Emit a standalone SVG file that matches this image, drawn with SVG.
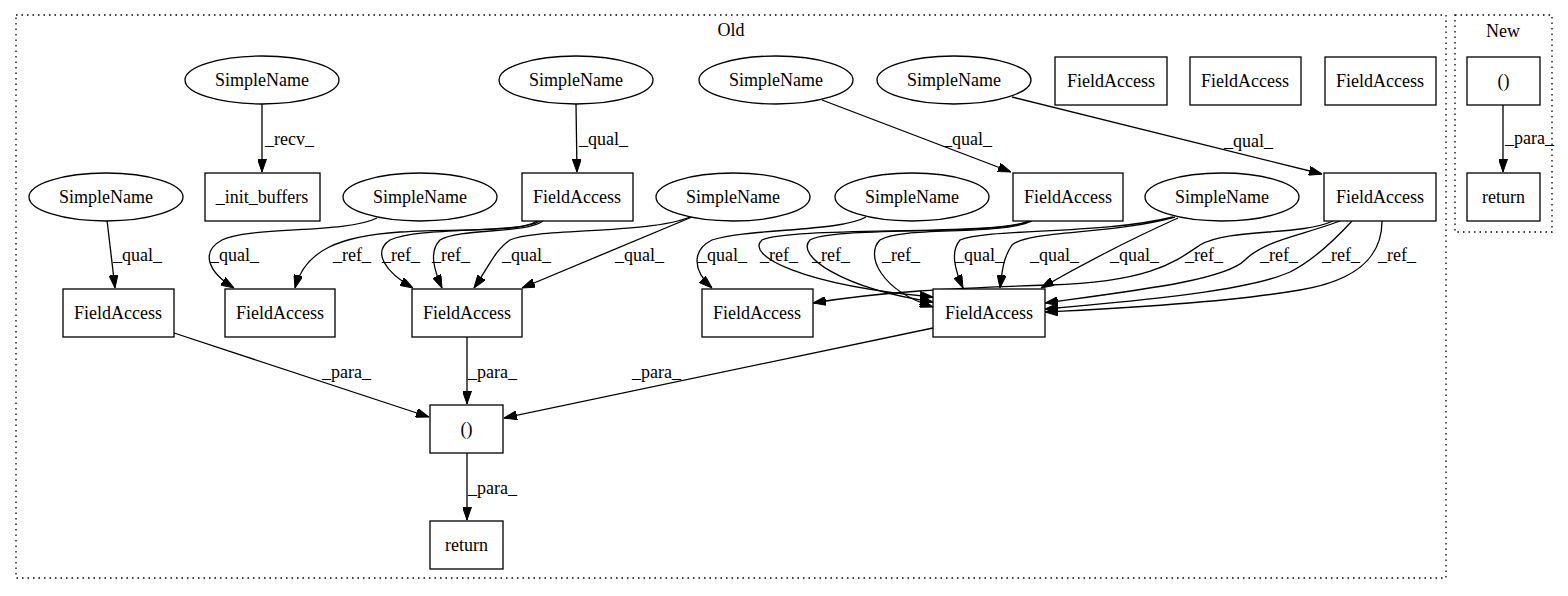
<svg xmlns="http://www.w3.org/2000/svg" width="1568" height="596" viewBox="0 0 1568 596">
<style>
text{font-family:"Liberation Serif","Times New Roman",serif;font-size:18px;fill:#000}
.n{text-anchor:middle}
.box{fill:#fff;stroke:#000;stroke-width:1.3}
.ell{fill:#fff;stroke:#000;stroke-width:1.3}
.cl{fill:none;stroke:#000;stroke-width:1.3;stroke-dasharray:1.5 4}
.e{fill:none;stroke:#000;stroke-width:1.3;marker-end:url(#ah)}
</style>
<defs>
<marker id="ah" viewBox="0 0 13 9" refX="13" refY="4.5" markerWidth="13" markerHeight="9" markerUnits="userSpaceOnUse" orient="auto">
<path d="M0,0 L13,4.5 L0,9 Z" fill="#000" stroke="#000" stroke-width="1"/>
</marker>
</defs>
<rect width="1568" height="596" fill="#fff"/>
<g id="cluster_old">
<rect class="cl" x="16" y="15" width="1430" height="563"/>
<text class="n" x="731" y="36">Old</text>
</g>
<g id="cluster_new">
<rect class="cl" x="1455" y="15" width="97" height="217"/>
<text class="n" x="1503" y="37">New</text>
</g>
<g id="connectors">
<path class="e" d="M262,104 L262,172"/>
<path class="e" d="M576,104 L577,172"/>
<path class="e" d="M822,100 L1011,172"/>
<path class="e" d="M1012,97 L1322,174"/>
<path class="e" d="M107,220 L115,288"/>
<path class="e" d="M377,218 C345,234 250,226 222,240 C200,252 208,272 234,288"/>
<path class="e" d="M537,221 C520,233 460,228 400,232 C340,236 305,250 295,288"/>
<path class="e" d="M540,221 C520,234 420,226 390,240 C372,252 385,272 413,288"/>
<path class="e" d="M543,221 C525,234 460,228 440,240 C428,252 435,272 442,288"/>
<path class="e" d="M690,217 C650,234 535,228 510,240 C495,250 488,268 474,288"/>
<path class="e" d="M692,217 L522,288"/>
<path class="e" d="M866,217 C840,232 750,228 712,240 C692,250 692,270 712,288"/>
<path class="e" d="M1028,221 C1000,236 790,226 762,240 C745,255 800,285 933,297"/>
<path class="e" d="M1030,221 C1000,236 830,226 810,240 C795,255 840,288 933,302"/>
<path class="e" d="M1032,221 C1000,236 900,226 880,240 C865,255 880,290 933,307"/>
<path class="e" d="M1173,217 C1100,235 990,228 960,240 C950,252 955,270 963,288"/>
<path class="e" d="M1175,217 C1110,235 1030,230 1012,245 C1003,258 1002,272 1000,288"/>
<path class="e" d="M1178,218 C1140,235 1090,260 1041,288"/>
<path class="e" d="M1333,221 C1300,236 1230,228 1200,245 C1175,262 1150,282 1050,285 C950,288 880,292 813,303"/>
<path class="e" d="M1340,221 C1300,236 1265,240 1245,260 C1225,280 1140,290 1045,303"/>
<path class="e" d="M1352,221 C1330,245 1310,262 1290,272 C1250,290 1150,300 1045,309"/>
<path class="e" d="M1382,221 C1382,255 1360,280 1300,290 C1230,302 1130,308 1045,312"/>
<path class="e" d="M174,333 L429,417"/>
<path class="e" d="M467,337 L467,404"/>
<path class="e" d="M933,328 L504,418"/>
<path class="e" d="M467,453 L467,520"/>
<path class="e" d="M1503,105 L1503,172"/>
<text x="265" y="145">_recv_</text>
<text x="579" y="145">_qual_</text>
<text x="943" y="145">_qual_</text>
<text x="1224" y="147">_qual_</text>
<text x="113" y="261">_qual_</text>
<text x="210" y="261">_qual_</text>
<text x="333" y="261">_ref_</text>
<text x="382" y="261">_ref_</text>
<text x="432" y="261">_ref_</text>
<text x="502" y="261">_qual_</text>
<text x="615" y="261">_qual_</text>
<text x="698" y="261">_qual_</text>
<text x="760" y="261">_ref_</text>
<text x="812" y="261">_ref_</text>
<text x="882" y="261">_ref_</text>
<text x="955" y="261">_qual_</text>
<text x="1030" y="261">_qual_</text>
<text x="1110" y="261">_qual_</text>
<text x="1185" y="261">_ref_</text>
<text x="1260" y="261">_ref_</text>
<text x="1322" y="261">_ref_</text>
<text x="1378" y="261">_ref_</text>
<text x="322" y="378">_para_</text>
<text x="468" y="378">_para_</text>
<text x="632" y="378">_para_</text>
<text x="468" y="494">_para_</text>
<text x="1505" y="144">_para_</text>
</g>
<g id="s1"><ellipse class="ell" cx="262" cy="80" rx="77" ry="24"/><text class="n" x="262" y="86">SimpleName</text></g>
<g id="s2"><ellipse class="ell" cx="576" cy="80" rx="77" ry="24"/><text class="n" x="576" y="86">SimpleName</text></g>
<g id="s3"><ellipse class="ell" cx="776" cy="80" rx="77" ry="24"/><text class="n" x="776" y="86">SimpleName</text></g>
<g id="s4"><ellipse class="ell" cx="954" cy="80" rx="77" ry="24"/><text class="n" x="954" y="86">SimpleName</text></g>
<g id="fa_top1"><rect class="box" x="1055" y="57" width="112" height="48"/><text class="n" x="1111" y="87">FieldAccess</text></g>
<g id="fa_top2"><rect class="box" x="1190" y="57" width="111" height="48"/><text class="n" x="1245" y="87">FieldAccess</text></g>
<g id="fa_top3"><rect class="box" x="1325" y="57" width="111" height="48"/><text class="n" x="1380" y="87">FieldAccess</text></g>
<g id="s5"><ellipse class="ell" cx="106" cy="197" rx="77" ry="24"/><text class="n" x="106" y="203">SimpleName</text></g>
<g id="init_buffers"><rect class="box" x="205" y="173" width="115" height="48"/><text class="n" x="262" y="203">_init_buffers</text></g>
<g id="s6"><ellipse class="ell" cx="420" cy="197" rx="77" ry="24"/><text class="n" x="420" y="203">SimpleName</text></g>
<g id="fa1"><rect class="box" x="522" y="173" width="111" height="48"/><text class="n" x="577" y="203">FieldAccess</text></g>
<g id="s7"><ellipse class="ell" cx="733" cy="197" rx="77" ry="24"/><text class="n" x="733" y="203">SimpleName</text></g>
<g id="s8"><ellipse class="ell" cx="912" cy="197" rx="77" ry="24"/><text class="n" x="912" y="203">SimpleName</text></g>
<g id="fa2"><rect class="box" x="1013" y="173" width="110" height="48"/><text class="n" x="1068" y="203">FieldAccess</text></g>
<g id="s9"><ellipse class="ell" cx="1222" cy="197" rx="77" ry="24"/><text class="n" x="1222" y="203">SimpleName</text></g>
<g id="fa3"><rect class="box" x="1324" y="173" width="112" height="48"/><text class="n" x="1380" y="203">FieldAccess</text></g>
<g id="fa4"><rect class="box" x="63" y="289" width="111" height="48"/><text class="n" x="118" y="319">FieldAccess</text></g>
<g id="fa5"><rect class="box" x="225" y="289" width="110" height="48"/><text class="n" x="280" y="319">FieldAccess</text></g>
<g id="fa6"><rect class="box" x="412" y="289" width="110" height="48"/><text class="n" x="467" y="319">FieldAccess</text></g>
<g id="fa7"><rect class="box" x="702" y="289" width="111" height="48"/><text class="n" x="757" y="319">FieldAccess</text></g>
<g id="fa8"><rect class="box" x="933" y="289" width="112" height="48"/><text class="n" x="989" y="319">FieldAccess</text></g>
<g id="paren_old"><rect class="box" x="430" y="405" width="73" height="48"/><text class="n" x="466.5" y="435">()</text></g>
<g id="return_old"><rect class="box" x="430" y="521" width="73" height="48"/><text class="n" x="466.5" y="551">return</text></g>
<g id="paren_new"><rect class="box" x="1467" y="57" width="73" height="48"/><text class="n" x="1503.5" y="87">()</text></g>
<g id="return_new"><rect class="box" x="1467" y="173" width="73" height="48"/><text class="n" x="1503.5" y="203">return</text></g>
</svg>
